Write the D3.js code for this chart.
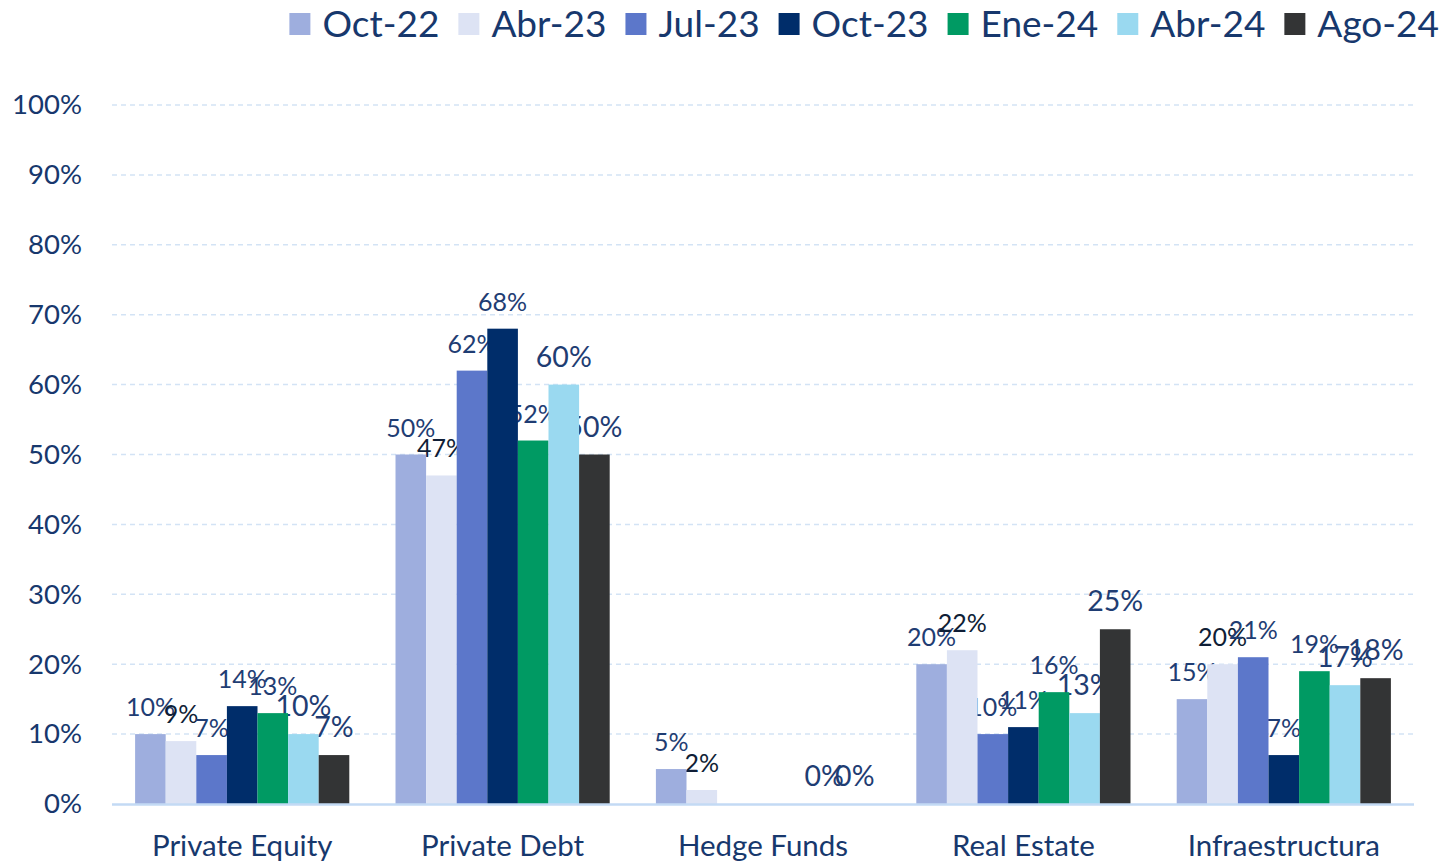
<!DOCTYPE html>
<html>
<head>
<meta charset="utf-8">
<script src="https://cdn.jsdelivr.net/npm/d3@7"></script>
<style>
  body { margin: 0; background: #fff; }
  svg { display: block; font-family: Lato, "Open Sans", sans-serif; }
</style>
</head>
<body>
<div id="chart"></div>
<script>
// data (percent)
const categories = ["Private Equity", "Private Debt", "Hedge Funds", "Real Estate", "Infraestructura"];
const series = ["Oct-22", "Abr-23", "Jul-23", "Oct-23", "Ene-24", "Abr-24", "Ago-24"];
const oct22 = [10, 50, 5, 20, 15];
const abr23 = [9, 47, 2, 22, 20];
const jul23 = [7, 62, null, 10, 21];
const oct23 = [14, 68, null, 11, 7];
const ene24 = [13, 52, null, 16, 19];
const abr24 = [10, 60, 0, 13, 17];
const ago24 = [7, 50, 0, 25, 18];
const yTicks = [0, 10, 20, 30, 40, 50, 60, 70, 80, 90, 100];

const values = [oct22, abr23, jul23, oct23, ene24, abr24, ago24];
const colors = ["#9eaede", "#dde3f4", "#5c77ca", "#002d6a", "#009a63", "#9ad9f0", "#333435"];
const labelColors = ["#1f3d73", "#0f1e36", "#1f3d73", "#1f3d73", "#1f3d73", "#1f3d73", "#1f3d73"];
const labelSizes = [25, 25, 25, 25, 25, 28.5, 28.5];

const W = 1445, H = 862;
const svg = d3.select("#chart").append("svg")
  .attr("width", W).attr("height", H);

const x0 = d3.scaleBand().domain(categories).range([112, 1414]).padding(0);
const x1 = d3.scaleBand().domain(series).range([0, x0.bandwidth()]).paddingInner(0).paddingOuter(0.755);
const y = d3.scaleLinear().domain([0, 100]).range([804, 105]);

// grid
svg.append("g").selectAll("line")
  .data(yTicks.filter(d => d > 0))
  .join("line")
    .attr("x1", 112).attr("x2", 1414)
    .attr("y1", d => y(d)).attr("y2", d => y(d))
    .attr("stroke", "#d3e3f5")
    .attr("stroke-width", 1.5)
    .attr("stroke-dasharray", "5,4");

// y axis labels
const yAxis = svg.append("g")
  .attr("transform", "translate(82,0)")
  .call(d3.axisLeft(y).tickValues(yTicks).tickSize(0).tickPadding(0).tickFormat(d => d + "%"));
yAxis.select(".domain").remove();
yAxis.selectAll("text")
  .attr("fill", "#17386d")
  .style("font-size", "27.5px")
  .style("font-family", "Lato");

// flatten
const cells = [];
series.forEach((s, i) => {
  categories.forEach((c, j) => {
    if (values[i][j] !== null) cells.push({s: s, i: i, c: c, v: values[i][j]});
  });
});

// labels sit behind the bars, like the original
svg.append("g").selectAll("text")
  .data(cells)
  .join("text")
    .attr("x", d => x0(d.c) + x1(d.s) + x1.bandwidth() / 2)
    .attr("y", d => y(d.v) - 18)
    .attr("text-anchor", "middle")
    .attr("fill", d => labelColors[d.i])
    .style("font-size", d => labelSizes[d.i] + "px")
    .text(d => d.v + "%");

svg.append("g").selectAll("rect")
  .data(cells)
  .join("rect")
    .attr("x", d => x0(d.c) + x1(d.s))
    .attr("y", d => y(d.v))
    .attr("width", x1.bandwidth())
    .attr("height", d => y(0) - y(d.v))
    .attr("fill", d => colors[d.i]);

// baseline
svg.append("line")
  .attr("x1", 112).attr("x2", 1414)
  .attr("y1", y(0) + 0.5).attr("y2", y(0) + 0.5)
  .attr("stroke", "#c3daf4")
  .attr("stroke-width", 2.5);

// category labels
const xAxis = svg.append("g")
  .attr("transform", `translate(0,${y(0)})`)
  .call(d3.axisBottom(x0).tickSize(0).tickPadding(0));
xAxis.select(".domain").remove();
xAxis.selectAll("text")
  .attr("y", 52)
  .attr("dy", null)
  .attr("fill", "#17386d")
  .style("font-size", "29.5px")
  .style("font-family", "Lato");

// legend, right aligned to the edge
const legend = svg.append("g");
let lx = 0;
series.forEach((s, i) => {
  legend.append("rect")
    .attr("x", lx).attr("y", 13)
    .attr("width", 21).attr("height", 22)
    .attr("fill", colors[i]);
  const t = legend.append("text")
    .attr("x", lx + 33).attr("y", 37)
    .attr("fill", "#17386d")
    .style("font-size", "37px")
    .text(s);
  lx += 33 + t.node().getComputedTextLength() + 19;
});
legend.attr("transform", `translate(${1439 - (lx - 19)},0)`);
</script>
</body>
</html>
